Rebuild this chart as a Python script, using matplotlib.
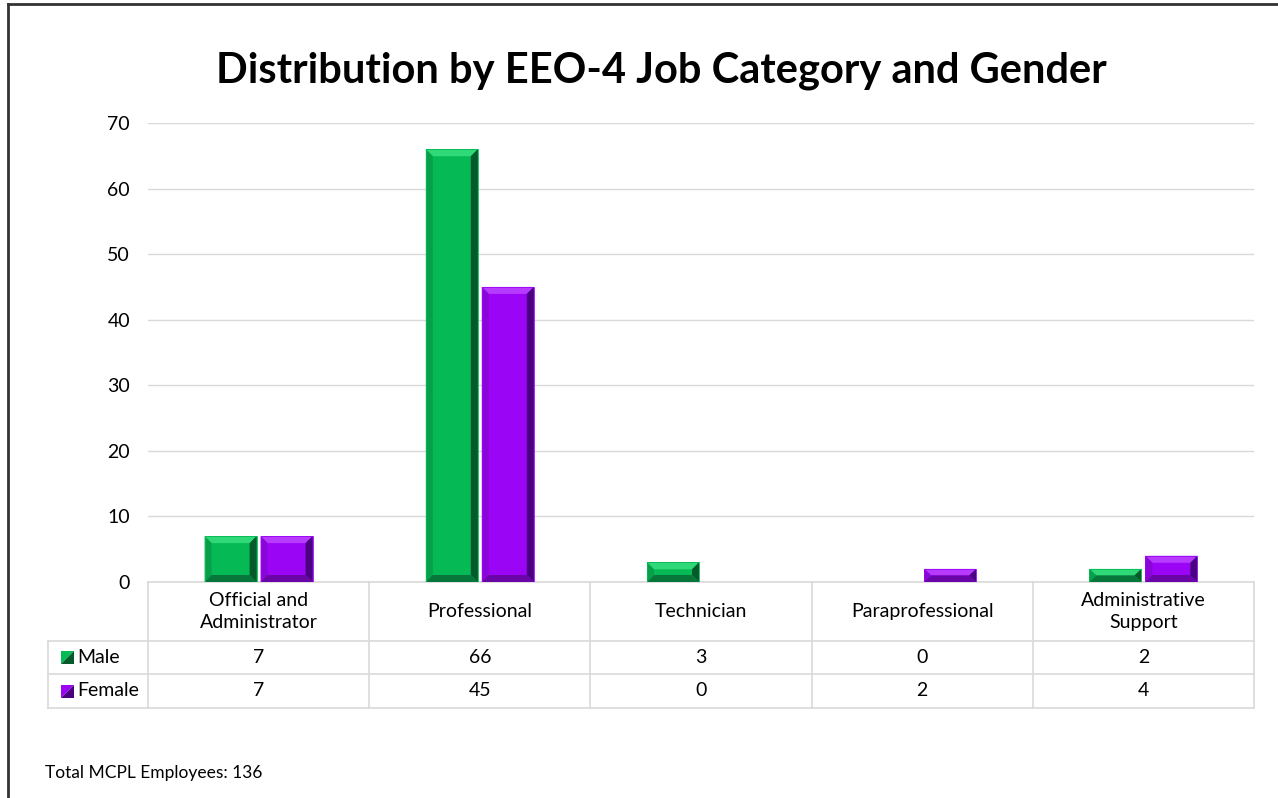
import numpy as np
import matplotlib
matplotlib.use("Agg")
import matplotlib.pyplot as plt
from matplotlib.patches import Polygon, Rectangle
from matplotlib.lines import Line2D
from matplotlib.transforms import blended_transform_factory

plt.rcParams['font.family'] = ['Lato', 'DejaVu Sans']

# data
categories = ["Official and\nAdministrator", "Professional", "Technician",
              "Paraprofessional", "Administrative\nSupport"]
series_names = ["Male", "Female"]
male = [7, 66, 3, 0, 2]
female = [7, 45, 0, 2, 4]
total_note = "Total MCPL Employees: 136"
title = "Distribution by EEO-4 Job Category and Gender"

# face, top, left, right, bottom shades for bevelled bars
shades = {
    "Male": ["#05B954", "#2FD978", "#07A04A", "#045A2A", "#07763A"],
    "Female": ["#9B05F5", "#B63BFF", "#8A05D8", "#4A0380", "#6A05A8"],
}

fig = plt.figure(figsize=(12.78, 7.98), dpi=100)
W, H = 1278.0, 798.0
ax = fig.add_axes([148 / W, 1 - 582 / H, (1254 - 148) / W, (582 - 123) / H])

x = np.arange(len(categories))
bw = 0.235
off = 0.1265
fs = 14

# bevel size in pixels -> data units
px_x = (len(categories)) / (1254 - 148)
px_y = 70.0 / (582 - 123)
bev = 7


def bevel_bar(x0, x1, y0, y1, cols):
    h = y1 - y0
    if h <= 0:
        return
    bx = bev * px_x
    by = min(bev * px_y, h / 2.0)
    bx = min(bx, (x1 - x0) / 2.0)
    face, top, left, right, bot = cols
    ax.add_patch(Rectangle((x0, y0), x1 - x0, h, facecolor=face, edgecolor="none", zorder=3))
    ax.add_patch(Polygon([(x0, y1), (x1, y1), (x1 - bx, y1 - by), (x0 + bx, y1 - by)],
                         closed=True, facecolor=top, edgecolor="none", zorder=4))
    ax.add_patch(Polygon([(x0, y0), (x0, y1), (x0 + bx, y1 - by), (x0 + bx, y0 + by)],
                         closed=True, facecolor=left, edgecolor="none", zorder=4))
    ax.add_patch(Polygon([(x1, y0), (x1, y1), (x1 - bx, y1 - by), (x1 - bx, y0 + by)],
                         closed=True, facecolor=right, edgecolor="none", zorder=4))
    ax.add_patch(Polygon([(x0, y0), (x1, y0), (x1 - bx, y0 + by), (x0 + bx, y0 + by)],
                         closed=True, facecolor=bot, edgecolor="none", zorder=4))
    ax.add_patch(Rectangle((x0, y0), x1 - x0, h, facecolor="none",
                           edgecolor=face, linewidth=0.6, zorder=5))


for name, vals, sgn in [("Male", male, -1), ("Female", female, 1)]:
    for xi, v in zip(x, vals):
        c = xi + sgn * off
        bevel_bar(c - bw / 2, c + bw / 2, 0, v, shades[name])

ax.set_xlim(-0.5, len(categories) - 0.5)
ax.set_ylim(0, 70)
ax.set_yticks(range(0, 71, 10))
ax.yaxis.grid(True, color="#D9D9D9", linewidth=1)
ax.set_axisbelow(True)
ax.set_xticks([])
ax.tick_params(axis="y", length=0, labelsize=fs, pad=13)
for s in ["top", "right", "left"]:
    ax.spines[s].set_visible(False)
ax.spines["bottom"].set_color("#D9D9D9")
ax.spines["bottom"].set_linewidth(1.2)

# data table beneath the axis
tr = blended_transform_factory(ax.transData, ax.transAxes)
ah = 582 - 123
r1 = -59 / ah
r2 = -92 / ah
r3 = -126 / ah
lx = -0.5 - 100 * px_x
lc = "#D9D9D9"


def tline(xs, ys):
    ax.add_line(Line2D(xs, ys, transform=tr, color=lc, linewidth=1.2, clip_on=False))


for b in np.arange(len(categories) + 1) - 0.5:
    tline([b, b], [0, r3])
tline([lx, lx], [r1, r3])
for yy in [r1, r2, r3]:
    tline([lx, len(categories) - 0.5], [yy, yy])

for xi, cat in zip(x, categories):
    ax.text(xi, r1 / 2, cat, transform=tr, ha="center", va="center",
            fontsize=fs, linespacing=1.4, clip_on=False)
for row_y, name, vals in [((r1 + r2) / 2, "Male", male), ((r2 + r3) / 2, "Female", female)]:
    for xi, v in zip(x, vals):
        ax.text(xi, row_y, str(v), transform=tr, ha="center", va="center",
                fontsize=fs, clip_on=False)
    ax.text(lx + 29 * px_x, row_y, name, transform=tr, ha="left", va="center",
            fontsize=fs, clip_on=False)
    # legend key: small bevelled square
    sx0 = lx + 13 * px_x
    sx1 = sx0 + 13 * px_x
    sy0 = row_y - 6.5 / ah
    sy1 = row_y + 6.5 / ah
    cols = shades[name]
    ax.add_patch(Polygon([(sx0, sy0), (sx0, sy1), (sx1, sy1)], closed=True,
                         facecolor=cols[0], edgecolor="none", transform=tr, clip_on=False))
    ax.add_patch(Polygon([(sx0, sy0), (sx1, sy0), (sx1, sy1)], closed=True,
                         facecolor=cols[3], edgecolor="none", transform=tr, clip_on=False))

fig.text(0.5 * (214 + 1108) / W, 1 - 83 / H, title, ha="center", va="baseline",
         fontsize=30, fontweight="bold")
fig.text(45 / W, 1 - 773 / H, total_note, ha="left", va="center", fontsize=12.5)

# outer frame (left and top edges only visible)
fig.add_artist(Line2D([8 / W, 8 / W], [0, 1 - 4 / H], transform=fig.transFigure,
                      color="#333333", linewidth=2))
fig.add_artist(Line2D([8 / W, 1], [1 - 4 / H, 1 - 4 / H], transform=fig.transFigure,
                      color="#333333", linewidth=2))

fig.savefig("out.png", dpi=100, facecolor="white")
